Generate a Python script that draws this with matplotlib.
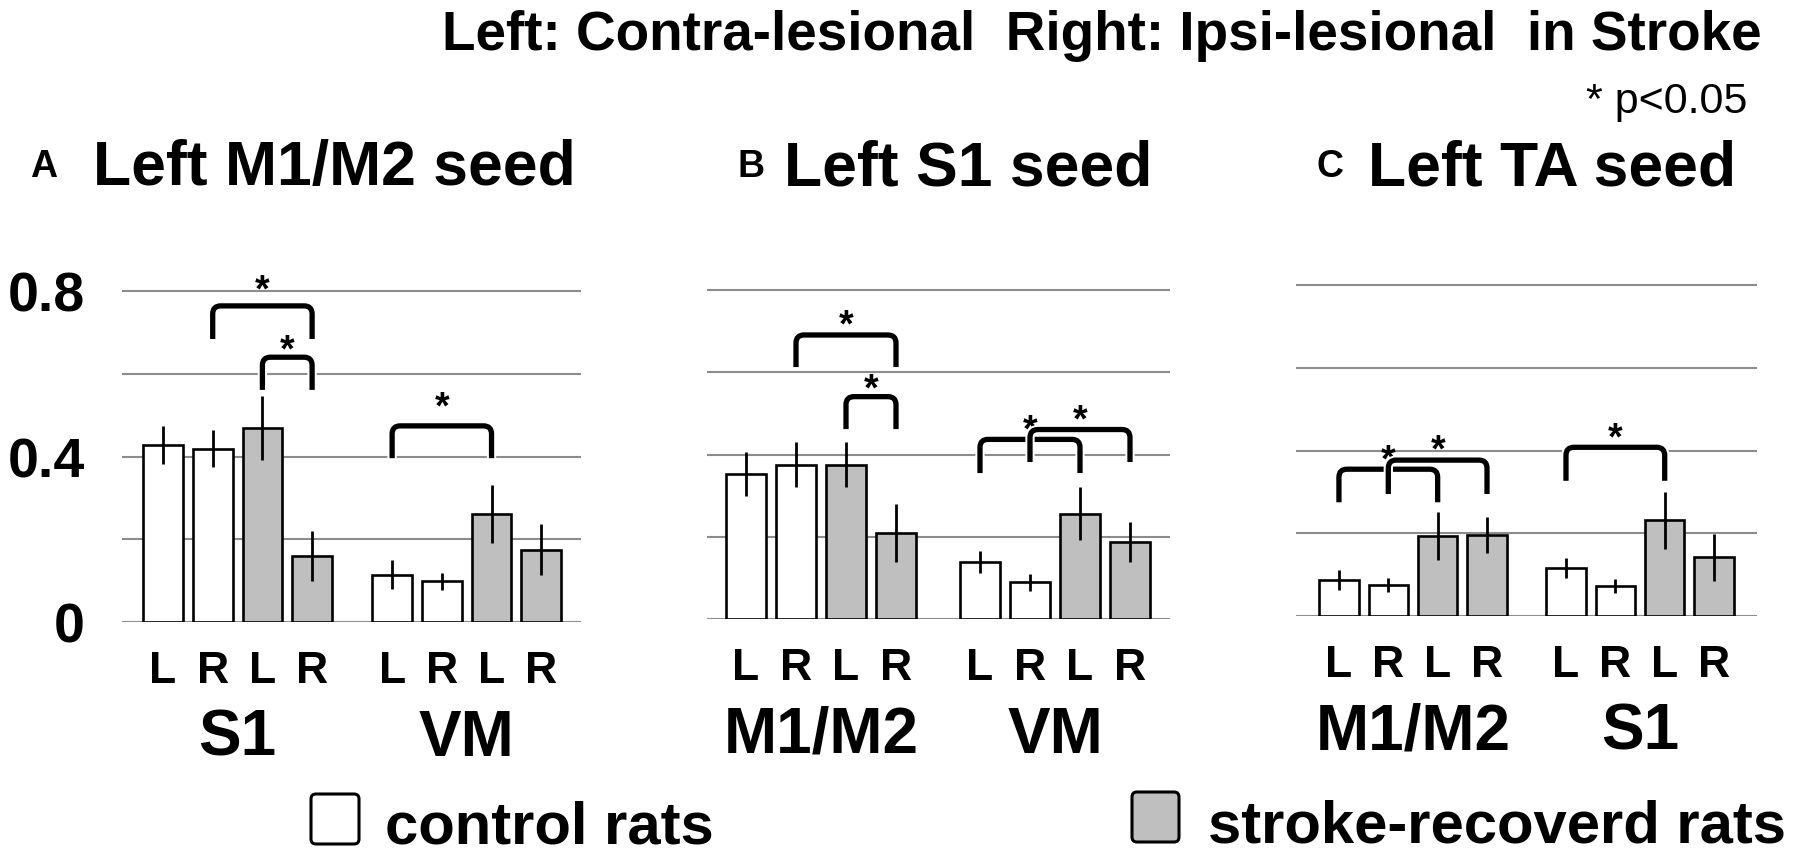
import matplotlib
matplotlib.use('Agg')
import matplotlib.pyplot as plt
from matplotlib.path import Path
from matplotlib.patches import PathPatch, FancyBboxPatch
import matplotlib.patheffects as pe

plt.rcParams['font.family'] = ['Liberation Sans', 'DejaVu Sans']

W, H = 1803, 853

# data
sides = ['L', 'R', 'L', 'R', 'L', 'R', 'L', 'R']
is_stroke = [False, False, True, True, False, False, True, True]

titles = ['Left M1/M2 seed', 'Left S1 seed', 'Left TA seed']
letters = ['A', 'B', 'C']
regions = [['S1', 'VM'], ['M1/M2', 'VM'], ['M1/M2', 'S1']]

vals_a = [0.428, 0.419, 0.469, 0.160, 0.114, 0.098, 0.262, 0.175]
err_a = [0.046, 0.045, 0.077, 0.060, 0.035, 0.020, 0.070, 0.061]
vals_b = [0.353, 0.375, 0.375, 0.209, 0.139, 0.089, 0.256, 0.188]
err_b = [0.053, 0.055, 0.055, 0.070, 0.027, 0.021, 0.065, 0.049]
vals_c = [0.087, 0.075, 0.194, 0.196, 0.116, 0.073, 0.231, 0.142]
err_c = [0.024, 0.017, 0.058, 0.043, 0.025, 0.017, 0.068, 0.057]

# significance brackets: (bar i, bar j, top, leg end, star)
sig_a = [(1, 3, 0.764, 0.684, 0.829), (2, 3, 0.640, 0.561, 0.684), (4, 6, 0.474, 0.396, 0.544)]
sig_b = [(1, 3, 0.691, 0.613, 0.740), (2, 3, 0.541, 0.462, 0.584),
         (4, 6, 0.437, 0.355, 0.486), (5, 7, 0.461, 0.382, 0.510)]
sig_c = [(0, 2, 0.355, 0.275, 0.403), (1, 3, 0.377, 0.295, 0.428), (4, 6, 0.408, 0.327, 0.457)]

panels = [(vals_a, err_a, sig_a), (vals_b, err_b, sig_b), (vals_c, err_c, sig_c)]

# layout in pixels: left, right, y of zero, px per unit, offset of 2nd group, xlim
layout = [(122, 581, 623, 413.75, 4.61, (-0.825, 8.41)),
          (707, 1170, 620, 411.0, 4.68, (-0.78, 8.48)),
          (1296, 1757, 617, 413.5, 4.60, (-0.87, 8.47))]

WHITE = 'white'
GRAY = '#bfbfbf'
GRID = '#8c8c8c'

fig = plt.figure(figsize=(W / 100, H / 100), dpi=100)

# overlay in pixel coords for free text and legend
ax0 = fig.add_axes([0, 0, 1, 1])
ax0.set_xlim(0, W)
ax0.set_ylim(H, 0)
ax0.axis('off')

ax0.text(1762, 50, 'Left: Contra-lesional  Right: Ipsi-lesional  in Stroke',
         ha='right', va='baseline', fontsize=39.5, fontweight='bold')
ax0.text(1747, 113, '* p<0.05', ha='right', va='baseline', fontsize=31)

title_x = [93, 784, 1368]
letter_x = [30, 737, 1317]
for k in range(3):
    ax0.text(letter_x[k], 177, letters[k], ha='left', va='baseline', fontsize=27, fontweight='bold')
    ax0.text(title_x[k], 185, titles[k], ha='left', va='baseline', fontsize=45, fontweight='bold')


def bracket(ax, x1, x2, yt, yb, rx, ry):
    verts = [(x1, yb), (x1, yt - ry), (x1, yt), (x1 + rx, yt),
             (x2 - rx, yt), (x2, yt), (x2, yt - ry), (x2, yb)]
    codes = [Path.MOVETO, Path.LINETO, Path.CURVE3, Path.CURVE3,
             Path.LINETO, Path.CURVE3, Path.CURVE3, Path.LINETO]
    p = PathPatch(Path(verts, codes), fill=False, lw=3.8, edgecolor='black',
                  capstyle='butt', joinstyle='round', zorder=4, clip_on=False,
                  path_effects=[pe.withStroke(linewidth=6.7, foreground='white')])
    ax.add_patch(p)


for k, (vals, errs, sigs) in enumerate(panels):
    left, right, zero, scale, gap, xl = layout[k]
    pitch = (right - left) / (xl[1] - xl[0])
    ax = fig.add_axes([left / W, (H - zero) / H, (right - left) / W, 0.9 * scale / H])
    x = [0, 1, 2, 3, gap, gap + 1, gap + 2, gap + 3]
    colors = [GRAY if s else WHITE for s in is_stroke]
    ax.bar(x, vals, width=0.8, color=colors, edgecolor='black', linewidth=1.9, zorder=2)
    ax.errorbar(x, vals, yerr=errs, fmt='none', ecolor='black', elinewidth=2.0,
                capsize=0, zorder=3)
    ax.set_xlim(*xl)
    ax.set_ylim(0, 0.9)
    ax.set_yticks([0, 0.2, 0.4, 0.6, 0.8])
    ax.yaxis.grid(True, color=GRID, linewidth=1.5)
    ax.set_axisbelow(True)
    ax.set_xticks([])
    for s in ax.spines.values():
        s.set_visible(False)
    ax.patch.set_alpha(0)
    if k == 0:
        ax.set_yticklabels(['0', '', '0.4', '', '0.8'], fontsize=40, fontweight='bold')
        ax.tick_params(axis='y', length=0, pad=26.6)
    else:
        ax.tick_params(axis='y', length=0, labelleft=False)

    for xi, sd in zip(x, sides):
        ax.annotate(sd, xy=(xi, 0), xytext=(0, -60), textcoords='offset pixels',
                    ha='center', va='baseline', fontsize=32, fontweight='bold',
                    annotation_clip=False)
    for gx, name in zip([1.5, gap + 1.5], regions[k]):
        ax.annotate(name, xy=(gx, 0), xytext=(0, -133), textcoords='offset pixels',
                    ha='center', va='baseline', fontsize=46, fontweight='bold',
                    annotation_clip=False)

    for i, j, yt, yb, ys in sigs:
        bracket(ax, x[i], x[j], yt, yb, 8 / pitch, 8 / scale)
        ax.annotate('*', xy=((x[i] + x[j]) / 2, ys), xytext=(0, -21),
                    textcoords='offset pixels', ha='center', va='baseline',
                    fontsize=27, fontweight='bold', annotation_clip=False)

# legend
ax0.add_patch(FancyBboxPatch((311, 795), 48, 50, boxstyle='round,pad=0,rounding_size=5',
                             facecolor=WHITE, edgecolor='black', linewidth=2.2))
ax0.add_patch(FancyBboxPatch((1132, 793), 47, 50, boxstyle='round,pad=0,rounding_size=5',
                             facecolor=GRAY, edgecolor='black', linewidth=2.2))
ax0.text(385, 844, 'control rats', ha='left', va='baseline', fontsize=43,
         fontweight='bold')
ax0.text(1208, 843, 'stroke-recoverd rats', ha='left', va='baseline', fontsize=43,
         fontweight='bold')

fig.savefig('out.png', dpi=100)
